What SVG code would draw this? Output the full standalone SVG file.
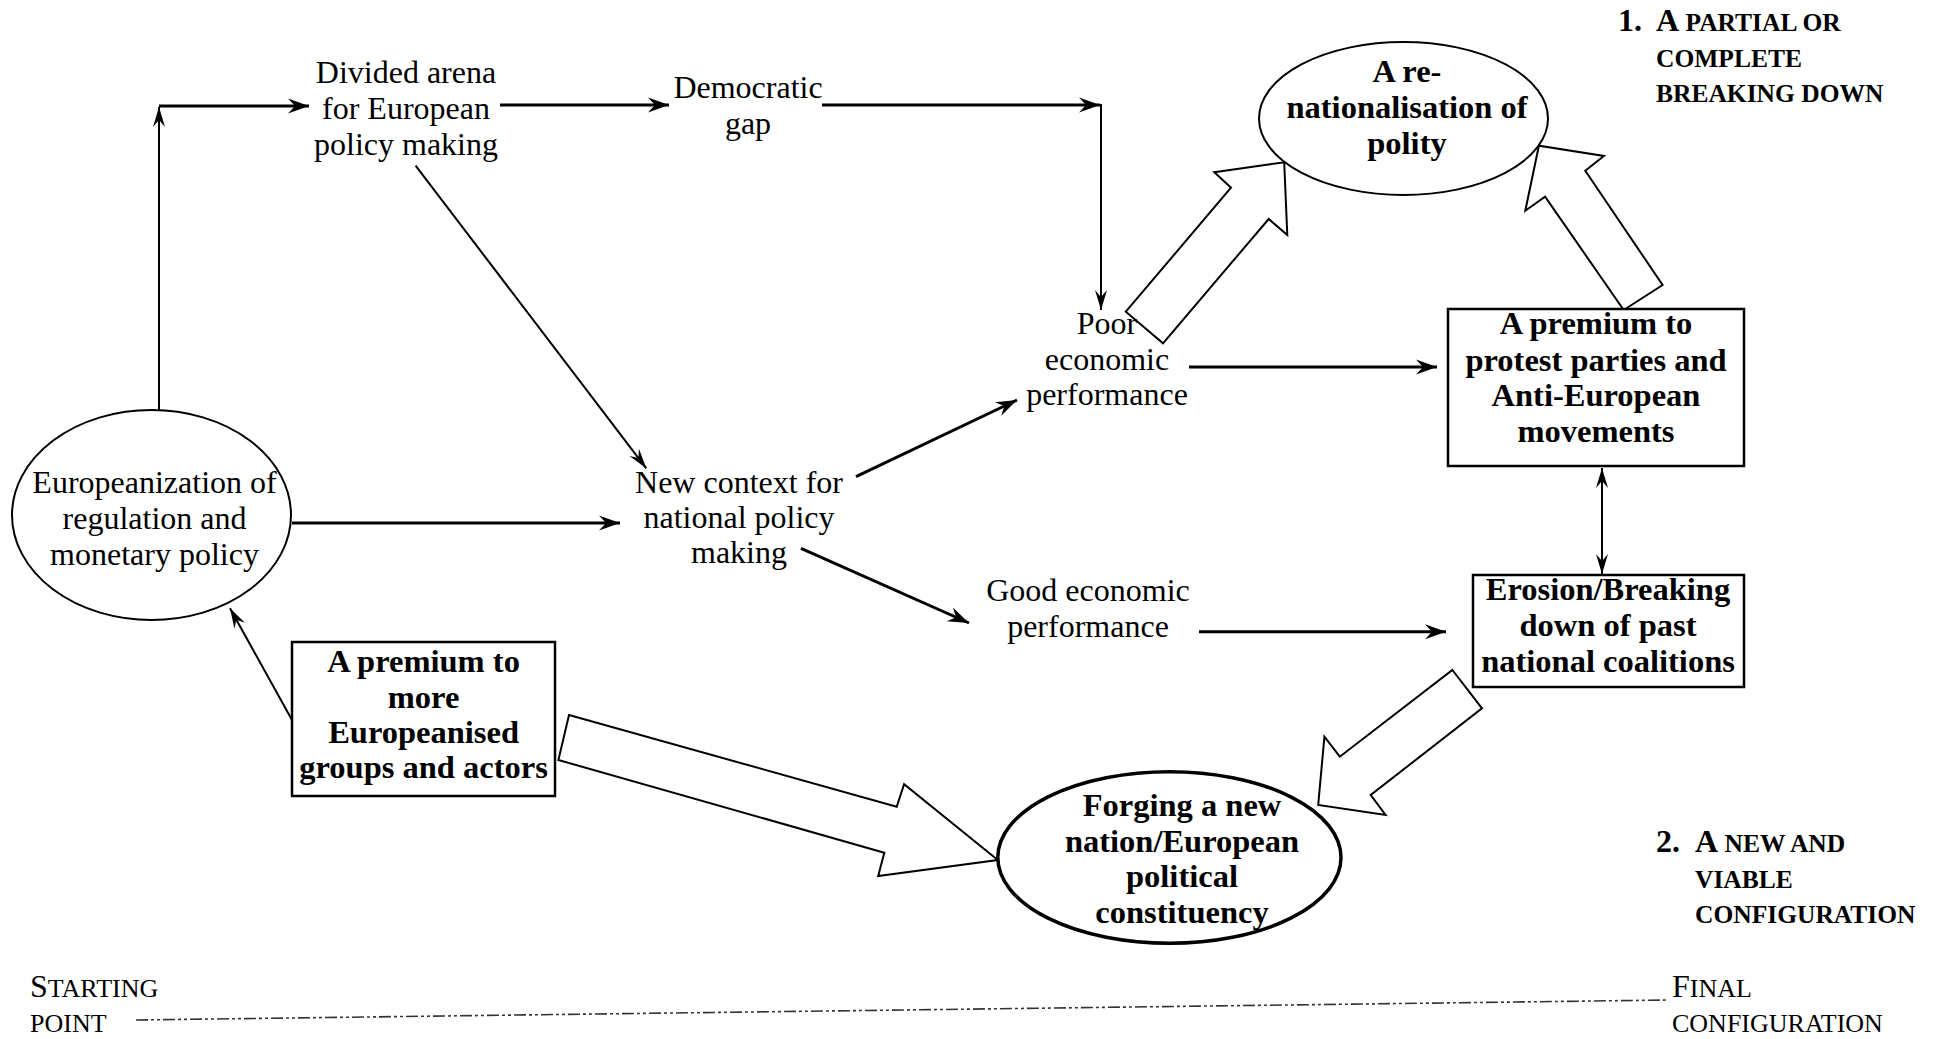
<svg xmlns="http://www.w3.org/2000/svg" width="1939" height="1039" viewBox="0 0 1939 1039">
<style>
text{font-family:"Liberation Serif","Times New Roman",serif;fill:#000}
.t{font-size:32px;text-anchor:middle}
.b{font-size:32.5px;font-weight:bold;text-anchor:middle}
.h{font-size:32px;font-weight:bold}
.hs{font-size:25.5px}
.s{font-size:32px}
.ss{font-size:26px}
.thin{stroke:#000;stroke-width:2;fill:none}
.thick{stroke:#000;stroke-width:3;fill:none}
.blk{stroke:#000;stroke-width:2;fill:#fff;stroke-linejoin:miter}
.node{stroke:#000;fill:#fff}
</style>
<defs>
<marker id="a1" markerUnits="userSpaceOnUse" markerWidth="24" markerHeight="20" viewBox="-22 -10 24 20" refX="0" refY="0" orient="auto"><path d="M0,0 L-21,-7.5 L-14,0 L-21,7.5 Z" fill="#000"/></marker>
<marker id="a2" markerUnits="userSpaceOnUse" markerWidth="24" markerHeight="20" viewBox="-22 -10 24 20" refX="0" refY="0" orient="auto"><path d="M0,0 L-20,-6 L-13,0 L-20,6 Z" fill="#000"/></marker>
<marker id="a2s" markerUnits="userSpaceOnUse" markerWidth="24" markerHeight="20" viewBox="-22 -10 24 20" refX="0" refY="0" orient="auto-start-reverse"><path d="M0,0 L-20,-6 L-13,0 L-20,6 Z" fill="#000"/></marker>
</defs>

<g id="connectors">
<line class="thin" x1="159" y1="410" x2="159" y2="107" marker-end="url(#a2)"/>
<line class="thick" x1="159" y1="106" x2="309" y2="106" marker-end="url(#a1)"/>
<line class="thick" x1="500" y1="105" x2="669" y2="105" marker-end="url(#a1)"/>
<line class="thick" x1="822" y1="105" x2="1100" y2="105" marker-end="url(#a1)"/>
<line class="thin" x1="1101" y1="104" x2="1101" y2="310" marker-end="url(#a2)"/>
<line class="thin" x1="415.6" y1="165.7" x2="646.3" y2="468.3" marker-end="url(#a2)"/>
<line class="thick" x1="292" y1="523" x2="620" y2="523" marker-end="url(#a1)"/>
<line class="thick" x1="856" y1="476.7" x2="1017" y2="400" marker-end="url(#a1)"/>
<line class="thick" x1="801" y1="548.3" x2="969" y2="623" marker-end="url(#a1)"/>
<line class="thick" x1="1189" y1="367" x2="1437" y2="367" marker-end="url(#a1)"/>
<line class="thick" x1="1199" y1="631.7" x2="1446" y2="631.7" marker-end="url(#a1)"/>
<line class="thin" x1="1602" y1="468" x2="1602" y2="574" marker-start="url(#a2s)" marker-end="url(#a2)"/>
<line class="thin" x1="292" y1="720" x2="230" y2="608.3" marker-end="url(#a2)"/>
<polygon class="blk" points="1125.8,311.7 1231,187.7 1214.3,172.3 1284.2,162.3 1287.3,235 1268.7,219 1163,343.3"/>
<polygon class="blk" points="1623.7,310 1545.1,196.7 1525.3,210.7 1538.9,145.7 1603.9,156 1585.3,170.7 1662.6,285"/>
<polygon class="blk" points="569,715 896.7,806.7 904.1,784.3 997.8,860 878.2,876 884.3,852.7 558.4,760"/>
<polygon class="blk" points="1452.4,670 1482,708.3 1370.7,795 1385.6,815 1318.2,805 1324.4,736.7 1339.8,756.7"/>
<line x1="136" y1="1020" x2="1669" y2="1000" stroke="#333" stroke-width="1.6" stroke-dasharray="12 3 3 3 3 3"/>
</g>

<g id="europeanization">
<ellipse class="node" cx="151.5" cy="515" rx="139.5" ry="105" stroke-width="2"/>
<text class="t" x="154.5" y="493">Europeanization of</text>
<text class="t" x="154.5" y="529">regulation and</text>
<text class="t" x="154.5" y="565">monetary policy</text>
</g>

<g id="divided-arena">
<text class="t" x="406" y="83">Divided arena</text>
<text class="t" x="406" y="119">for European</text>
<text class="t" x="406" y="155">policy making</text>
</g>

<g id="democratic-gap">
<text class="t" x="748" y="98">Democratic</text>
<text class="t" x="748" y="134">gap</text>
</g>

<g id="new-context">
<text class="t" x="739" y="493">New context for</text>
<text class="t" x="739" y="528">national policy</text>
<text class="t" x="739" y="563">making</text>
</g>

<g id="poor-performance">
<text class="t" x="1107" y="334">Poor</text>
<text class="t" x="1107" y="370">economic</text>
<text class="t" x="1107" y="405">performance</text>
</g>

<g id="good-performance">
<text class="t" x="1088" y="601">Good economic</text>
<text class="t" x="1088" y="637">performance</text>
</g>

<g id="renationalisation">
<ellipse class="node" cx="1403.5" cy="118.5" rx="144.5" ry="76.5" stroke-width="2"/>
<text class="b" x="1407" y="82">A re-</text>
<text class="b" x="1407" y="118">nationalisation of</text>
<text class="b" x="1407" y="154">polity</text>
</g>

<g id="premium-protest">
<rect class="node" x="1448" y="309" width="296" height="157" stroke-width="2.5"/>
<text class="b" x="1596" y="334">A premium to</text>
<text class="b" x="1596" y="371">protest parties and</text>
<text class="b" x="1596" y="406">Anti-European</text>
<text class="b" x="1596" y="442">movements</text>
</g>

<g id="erosion">
<rect class="node" x="1473" y="575" width="271" height="112" stroke-width="2.5"/>
<text class="b" x="1608" y="600">Erosion/Breaking</text>
<text class="b" x="1608" y="636">down of past</text>
<text class="b" x="1608" y="672">national coalitions</text>
</g>

<g id="premium-european">
<rect class="node" x="292" y="642" width="263" height="154" stroke-width="2.5"/>
<text class="b" x="423.6" y="672">A premium to</text>
<text class="b" x="423.6" y="708">more</text>
<text class="b" x="423.6" y="743">Europeanised</text>
<text class="b" x="423.6" y="778">groups and actors</text>
</g>

<g id="forging">
<ellipse class="node" cx="1169.4" cy="857.5" rx="171.6" ry="85.8" stroke-width="3.5" fill="none"/>
<text class="b" x="1182" y="816">Forging a new</text>
<text class="b" x="1182" y="852">nation/European</text>
<text class="b" x="1182" y="887">political</text>
<text class="b" x="1182" y="923">constituency</text>
</g>

<g id="outcome-1">
<text class="h" x="1618" y="31">1.</text>
<text class="h" x="1656" y="31">A<tspan class="hs"> PARTIAL OR</tspan></text>
<text class="h hs" x="1656" y="67">COMPLETE</text>
<text class="h hs" x="1656" y="102">BREAKING DOWN</text>
</g>

<g id="outcome-2">
<text class="h" x="1656" y="852">2.</text>
<text class="h" x="1695" y="852">A<tspan class="hs"> NEW AND</tspan></text>
<text class="h hs" x="1695" y="888">VIABLE</text>
<text class="h hs" x="1695" y="923">CONFIGURATION</text>
</g>

<g id="starting-point">
<text class="s" x="30" y="997">S<tspan class="ss">TARTING</tspan></text>
<text class="ss" x="30" y="1032">POINT</text>
</g>

<g id="final-configuration">
<text class="s" x="1672" y="997">F<tspan class="ss">INAL</tspan></text>
<text class="ss" x="1672" y="1032">CONFIGURATION</text>
</g>
</svg>
